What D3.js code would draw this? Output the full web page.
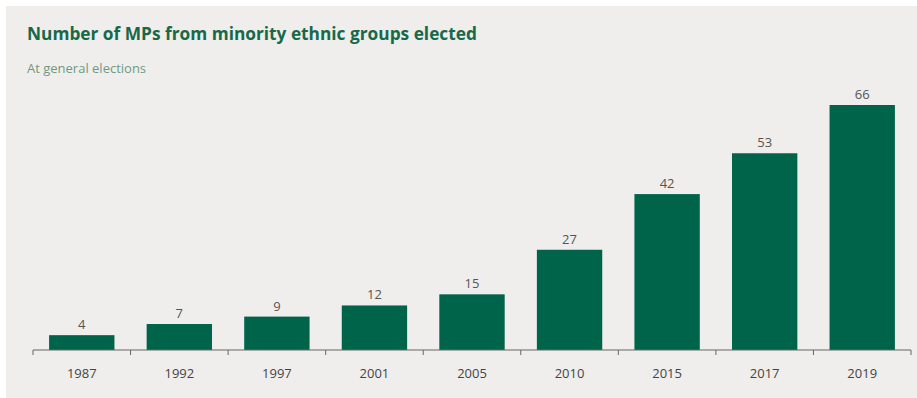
<!DOCTYPE html>
<html>
<head>
<meta charset="utf-8">
<script src="https://cdn.jsdelivr.net/npm/d3@7"></script>
<style>
  body { margin: 0; background: #fff; }
  svg { display: block; font-family: "Open Sans", "Noto Sans", sans-serif; }
</style>
</head>
<body>
<div id="chart"></div>
<script>
const years = ["1987", "1992", "1997", "2001", "2005", "2010", "2015", "2017", "2019"];
const mps = [4, 7, 9, 12, 15, 27, 42, 53, 66];

const width = 917, height = 398;
const margin = { top: 105, right: 6, bottom: 48, left: 33 };

const svg = d3.select("#chart").append("svg")
    .attr("width", width)
    .attr("height", height);

svg.append("rect")
    .attr("x", 6)
    .attr("y", 6)
    .attr("width", width - 6)
    .attr("height", height - 6)
    .attr("fill", "#efeeec");

svg.append("text")
    .attr("x", 27)
    .attr("y", 40)
    .attr("font-size", 17.3)
    .attr("font-weight", "bold")
    .attr("fill", "#17694a")
    .text("Number of MPs from minority ethnic groups elected");

svg.append("text")
    .attr("x", 27)
    .attr("y", 73)
    .attr("font-size", 13)
    .attr("fill", "#6f9a82")
    .text("At general elections");

const x = d3.scaleBand()
    .domain(years)
    .range([margin.left, 911])
    .paddingInner(0.33)
    .paddingOuter(0.165);

const y = d3.scaleLinear()
    .domain([0, d3.max(mps)])
    .range([height - margin.bottom, margin.top]);

const data = years.map((yr, i) => ({ year: yr, value: mps[i] }));

svg.selectAll(".bar")
    .data(data)
    .enter().append("rect")
    .attr("class", "bar")
    .attr("x", d => x(d.year))
    .attr("y", d => y(d.value))
    .attr("width", x.bandwidth())
    .attr("height", d => y(0) - y(d.value))
    .attr("fill", "#00644a");

svg.selectAll(".val")
    .data(data)
    .enter().append("text")
    .attr("class", "val")
    .attr("x", d => x(d.year) + x.bandwidth() / 2)
    .attr("y", d => y(d.value) - 6)
    .attr("text-anchor", "middle")
    .attr("font-size", 13)
    .attr("fill", "#555")
    .text(d => d.value);

// axis line with ticks between bands
const axis = svg.append("g");
axis.append("line")
    .attr("x1", margin.left)
    .attr("x2", 911)
    .attr("y1", y(0))
    .attr("y2", y(0))
    .attr("stroke", "#666")
    .attr("stroke-width", 1);

const step = x.step();
const tickPos = d3.range(years.length + 1).map(i => margin.left + i * step);
axis.selectAll(".tick")
    .data(tickPos)
    .enter().append("line")
    .attr("x1", d => d)
    .attr("x2", d => d)
    .attr("y1", y(0))
    .attr("y2", y(0) + 5)
    .attr("stroke", "#666");

svg.selectAll(".yr")
    .data(years)
    .enter().append("text")
    .attr("class", "yr")
    .attr("x", d => x(d) + x.bandwidth() / 2)
    .attr("y", 378)
    .attr("text-anchor", "middle")
    .attr("font-size", 13)
    .attr("fill", "#444")
    .text(d => d);
</script>
</body>
</html>
